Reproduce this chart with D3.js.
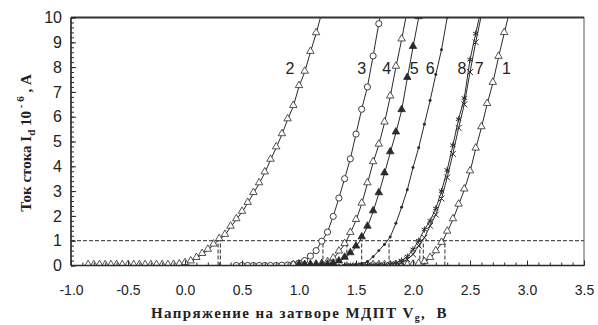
<!DOCTYPE html>
<html>
<head>
<meta charset="utf-8">
<script src="https://cdn.jsdelivr.net/npm/d3@7"></script>
<style>
  body { margin: 0; background: #fff; }
  svg { display: block; }
</style>
</head>
<body>
<div id="chart"></div>
<script>
// Vg (V) vs Id (1e-6 A) for the eight transistors
const curve1 = [[1.60,0],[1.65,0],[1.70,0],[1.75,0],[1.80,0],[1.85,0],[1.90,0],[1.95,0],[2.00,0.02],[2.05,0.05],
  [2.10,0.12],[2.15,0.29],[2.20,0.56],[2.25,0.90],[2.30,1.35],[2.35,1.85],[2.40,2.44],[2.45,3.05],[2.50,3.78],
  [2.55,4.70],[2.60,5.56],[2.65,6.50],[2.70,7.35],[2.75,8.40],[2.80,9.36],[2.85,10.3]];
const curve2 = [[-0.85,0],[-0.80,0],[-0.75,0],[-0.70,0],[-0.65,0],[-0.60,0],[-0.55,0],[-0.50,0],[-0.45,0],[-0.40,0],
  [-0.35,0],[-0.30,0],[-0.25,0],[-0.20,0],[-0.15,0],[-0.10,0.01],[-0.05,0.03],[0.00,0.08],[0.05,0.15],[0.10,0.29],
  [0.15,0.45],[0.20,0.62],[0.25,0.83],[0.30,1.05],[0.35,1.22],[0.40,1.55],[0.45,1.85],[0.50,2.15],[0.55,2.51],
  [0.60,2.91],[0.65,3.30],[0.70,3.74],[0.75,4.25],[0.80,4.75],[0.85,5.28],[0.90,5.88],[0.95,6.42],[1.00,7.22],
  [1.05,7.80],[1.10,8.60],[1.15,9.35],[1.20,10.2]];
const curve3 = [[0.45,0],[0.50,0],[0.55,0],[0.60,0],[0.65,0],[0.70,0],[0.75,0],[0.80,0],[0.85,0.01],[0.90,0.02],
  [0.95,0.05],[1.00,0.10],[1.05,0.20],[1.10,0.38],[1.15,0.60],[1.20,0.98],[1.25,1.35],[1.30,1.98],[1.35,2.72],
  [1.40,3.50],[1.45,4.30],[1.50,5.30],[1.55,6.30],[1.60,7.20],[1.65,8.45],[1.70,9.75],[1.75,10.9]];
const curve4 = [[0.95,0],[1.00,0],[1.05,0],[1.10,0.01],[1.15,0.02],[1.20,0.05],[1.25,0.12],[1.30,0.27],[1.35,0.55],
  [1.40,0.85],[1.45,1.30],[1.50,1.82],[1.55,2.48],[1.60,3.30],[1.65,4.15],[1.70,4.86],[1.75,5.75],[1.80,6.80],
  [1.85,8.00],[1.90,9.10],[1.95,10.3]];
const curve5 = [[1.00,0],[1.05,0],[1.10,0],[1.15,0],[1.20,0.01],[1.25,0.02],[1.30,0.06],[1.35,0.15],[1.40,0.30],
  [1.45,0.48],[1.50,0.75],[1.55,1.12],[1.60,1.55],[1.65,2.17],[1.70,2.90],[1.75,3.70],[1.80,4.55],[1.85,5.35],
  [1.90,6.25],[1.95,7.55],[2.00,8.80],[2.05,10.0],[2.10,11.0]];
const curve6 = [[1.10,0],[1.15,0],[1.20,0],[1.25,0],[1.30,0],[1.35,0],[1.40,0.01],[1.45,0.02],[1.50,0.04],[1.55,0.08],
  [1.60,0.15],[1.65,0.35],[1.70,0.60],[1.75,0.85],[1.80,1.15],[1.85,1.70],[1.90,2.35],[1.95,3.05],[2.00,3.95],
  [2.05,4.75],[2.10,5.70],[2.15,6.65],[2.20,7.70],[2.25,8.70],[2.30,10.0]];
const curve7 = [[1.45,0],[1.50,0],[1.55,0],[1.60,0],[1.65,0],[1.70,0],[1.75,0.01],[1.80,0.02],[1.85,0.05],[1.90,0.12],
  [1.95,0.25],[2.00,0.45],[2.05,0.80],[2.10,1.12],[2.15,1.60],[2.20,2.05],[2.25,2.70],[2.30,3.55],[2.35,4.50],
  [2.40,5.55],[2.45,6.50],[2.50,7.80],[2.55,9.00],[2.60,10.1]];
const curve8 = [[1.40,0],[1.45,0],[1.50,0],[1.55,0],[1.60,0],[1.65,0],[1.70,0.01],[1.75,0.02],[1.80,0.05],[1.85,0.10],
  [1.90,0.20],[1.95,0.36],[2.00,0.65],[2.05,1.00],[2.10,1.45],[2.15,1.80],[2.20,2.30],[2.25,3.00],[2.30,3.85],
  [2.35,4.85],[2.40,5.90],[2.45,6.75],[2.50,8.30],[2.55,9.35],[2.60,10.4]];

const curveNames = ["1", "2", "3", "4", "5", "6", "7", "8"];
const curveData = [curve1, curve2, curve3, curve4, curve5, curve6, curve7, curve8];
const curveMarks = ["triangle", "triangle", "circle", "triangle", "triangleFilled", "dot", "times", "asterisk"];
// label anchor points (Vg, Id) for the curve numbers
const labelX = [2.82, 0.92, 1.55, 1.77, 2.01, 2.15, 2.58, 2.43];
const labelY = [7.72, 7.72, 7.72, 7.72, 7.72, 7.72, 7.72, 7.72];
// Vg where each curve crosses Id = 1
const thresholds = [0.29, 0.31, 1.21, 1.42, 1.55, 1.79, 2.06, 2.09, 2.28];
const levelI = 1;

const xTicks = [-1.0, -0.5, 0.0, 0.5, 1.0, 1.5, 2.0, 2.5, 3.0, 3.5];
const yTicks = [0, 1, 2, 3, 4, 5, 6, 7, 8, 9, 10];

const width = 598, height = 325;
const margin = {top: 17.5, right: 14, bottom: 59.5, left: 71};

const x = d3.scaleLinear().domain([-1, 3.5]).range([margin.left, width - margin.right]);
const y = d3.scaleLinear().domain([0, 10]).range([height - margin.bottom, margin.top]);

const svg = d3.select("#chart").append("svg")
    .attr("width", width)
    .attr("height", height);

svg.append("clipPath").attr("id", "plot-clip")
  .append("rect")
    .attr("x", x(-1)).attr("y", y(10))
    .attr("width", x(3.5) - x(-1)).attr("height", y(0) - y(10));

const ink = "#2a2a2a";

// dashed guide lines
const guides = svg.append("g")
    .attr("stroke", ink)
    .attr("stroke-width", 1)
    .attr("stroke-dasharray", "4,2")
    .attr("fill", "none");
guides.append("line")
    .attr("x1", x(-1)).attr("x2", x(3.5))
    .attr("y1", y(levelI)).attr("y2", y(levelI));
guides.selectAll("line.v")
  .data(thresholds)
  .join("line")
    .attr("class", "v")
    .attr("x1", d => x(d)).attr("x2", d => x(d))
    .attr("y1", y(0)).attr("y2", y(levelI));

// curves
const line = d3.line().x(d => x(d[0])).y(d => y(d[1]));
const plot = svg.append("g").attr("clip-path", "url(#plot-clip)");

plot.selectAll("path.curve")
  .data(curveData)
  .join("path")
    .attr("class", "curve")
    .attr("fill", "none")
    .attr("stroke", ink)
    .attr("stroke-width", 1)
    .attr("d", line);

const symTri = d3.symbol().type(d3.symbolTriangle).size(24);
const symCircle = d3.symbol().type(d3.symbolCircle).size(30);
const symDot = d3.symbol().type(d3.symbolCircle).size(7);
const symTimes = d3.symbol().type(d3.symbolTimes).size(24);
const symAst = d3.symbol().type(d3.symbolAsterisk).size(26);

curveData.forEach((data, i) => {
  const kind = curveMarks[i];
  const g = plot.append("g");
  const pts = g.selectAll("path")
    .data(data.filter(d => d[1] <= 10.2))
    .join("path")
      .attr("transform", d => `translate(${x(d[0])},${y(d[1]) - (kind.startsWith("triangle") ? 1 : 0)})`);
  if (kind === "triangle") {
    pts.attr("d", symTri).attr("fill", "#fff").attr("stroke", ink).attr("stroke-width", 0.8);
  } else if (kind === "triangleFilled") {
    pts.attr("d", symTri).attr("fill", ink).attr("stroke", ink).attr("stroke-width", 0.8);
  } else if (kind === "circle") {
    pts.attr("d", symCircle).attr("fill", "#fff").attr("stroke", ink).attr("stroke-width", 0.9);
  } else if (kind === "dot") {
    pts.attr("d", symDot).attr("fill", ink);
  } else if (kind === "times") {
    pts.attr("d", symTimes).attr("fill", "none").attr("stroke", ink).attr("stroke-width", 1);
  } else {
    pts.attr("d", symAst).attr("fill", "none").attr("stroke", ink).attr("stroke-width", 1);
  }
});

// frame
svg.append("rect")
    .attr("x", x(-1)).attr("y", y(10))
    .attr("width", x(3.5) - x(-1)).attr("height", y(0) - y(10))
    .attr("fill", "none")
    .attr("stroke", "#555")
    .attr("stroke-width", 1);
svg.append("line")
    .attr("x1", x(-1)).attr("x2", x(3.5)).attr("y1", y(10)).attr("y2", y(10))
    .attr("stroke", "#333").attr("stroke-width", 2);

// axes with inward ticks
const xAxisMinor = d3.axisTop(x).ticks(45).tickSize(3).tickFormat("");
const xAxisMajor = d3.axisTop(x).tickValues(xTicks).tickSize(5).tickFormat("");
const xLabels = d3.axisBottom(x).tickValues(xTicks).tickSize(0).tickPadding(20).tickFormat(d => d.toFixed(1));
const yAxisMinor = d3.axisRight(y).ticks(50).tickSize(3).tickFormat("");
const yAxisMajor = d3.axisRight(y).tickValues(yTicks).tickSize(5).tickFormat("");
const yLabels = d3.axisLeft(y).tickValues(yTicks).tickSize(0).tickPadding(9).tickFormat(d => String(d));

const gx = svg.append("g").attr("transform", `translate(0,${y(0)})`);
gx.append("g").call(xAxisMinor);
gx.append("g").call(xAxisMajor);
gx.append("g").call(xLabels);

const gy = svg.append("g").attr("transform", `translate(${x(-1)},0)`);
gy.append("g").call(yAxisMinor);
gy.append("g").call(yAxisMajor);
gy.append("g").call(yLabels);

svg.selectAll(".domain").remove();
gx.selectAll(".tick line").attr("stroke", ink);
gy.selectAll(".tick line").attr("stroke", ink);
gx.selectAll("text")
    .attr("font-family", "'Liberation Sans', Arial, sans-serif")
    .attr("font-size", 14)
    .attr("fill", "#222");
gy.selectAll("text")
    .attr("font-family", "'Liberation Sans', Arial, sans-serif")
    .attr("font-size", 16)
    .attr("fill", "#222");

// left and bottom axis lines drawn heavier
svg.append("line")
    .attr("x1", x(-1)).attr("x2", x(-1)).attr("y1", y(10)).attr("y2", y(0))
    .attr("stroke", ink).attr("stroke-width", 1.5);
svg.append("line")
    .attr("x1", x(-1)).attr("x2", x(3.5)).attr("y1", y(0)).attr("y2", y(0))
    .attr("stroke", ink).attr("stroke-width", 1.5);

// curve numbers
svg.append("g")
    .attr("font-family", "'Liberation Sans', Arial, sans-serif")
    .attr("font-size", 16)
    .attr("fill", "#222")
    .attr("text-anchor", "middle")
  .selectAll("text")
  .data(curveNames)
  .join("text")
    .attr("x", (d, i) => x(labelX[i]))
    .attr("y", (d, i) => y(labelY[i]))
    .text(d => d);

// axis titles
const serif = "'Liberation Serif', 'DejaVu Serif', 'Times New Roman', serif";
const xt = svg.append("text")
    .attr("x", 151).attr("y", 318)
    .attr("font-family", serif)
    .attr("font-weight", "bold")
    .attr("font-size", 15)
    .attr("letter-spacing", 1.4)
    .attr("fill", "#222");
xt.append("tspan").text("Напряжение на затворе МДПТ V");
xt.append("tspan").attr("font-size", 10).attr("dy", 3).text("g");
xt.append("tspan").attr("dy", -3).attr("xml:space", "preserve").text(",  В");

const yt = svg.append("text")
    .attr("transform", "translate(31,143) rotate(-90)")
    .attr("text-anchor", "middle")
    .attr("font-family", serif)
    .attr("font-weight", "bold")
    .attr("font-size", 15)
    .attr("fill", "#222");
yt.append("tspan").text("Ток стока I");
yt.append("tspan").attr("font-size", 11).attr("dy", 4).text("d");
yt.append("tspan").attr("dy", -4).text(" 10");
yt.append("tspan").attr("font-size", 11).attr("dy", -7).text(" - 6");
yt.append("tspan").attr("dy", 7).text(" , А");
</script>
</body>
</html>
